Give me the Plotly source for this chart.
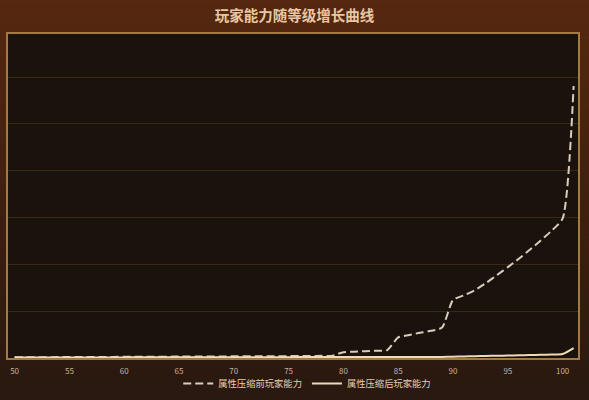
import plotly.graph_objects as go

# ---------------- data ----------------
levels = list(range(50, 102))

# ability before attribute compression (thousands)
before_compress = [15, 16, 17, 18, 19, 20, 21, 22, 23, 24,
                   25, 26, 27, 28, 29, 30, 31, 32, 33, 34,
                   35, 36, 37, 38, 39, 40, 42, 44, 46, 50,
                   125, 135, 145, 155, 170, 440, 490, 540, 580, 650,
                   1240, 1340, 1450, 1600, 1770, 1940, 2120, 2310, 2510, 2720,
                   2980, 5810]

# ability after attribute compression (thousands)
after_compress = [10, 10, 11, 11, 11, 12, 12, 12, 13, 13,
                  13, 14, 14, 14, 15, 15, 15, 16, 16, 16,
                  17, 17, 17, 18, 18, 18, 19, 19, 19, 20,
                  20, 20, 21, 21, 21, 21, 22, 22, 22, 22,
                  28, 33, 38, 43, 48, 53, 58, 63, 68, 75,
                  85, 210]

x_ticks = [50, 55, 60, 65, 70, 75, 80, 85, 90, 95, 100]

# ---------------- figure ----------------
fig = go.Figure()

fig.add_trace(go.Scatter(
    x=levels, y=before_compress,
    name="属性压缩前玩家能力",
    mode="lines",
    line=dict(color="#d9cdbd", width=2, dash="8px,4px", shape="spline", smoothing=0.6),
))
fig.add_trace(go.Scatter(
    x=levels, y=after_compress,
    name="属性压缩后玩家能力",
    mode="lines",
    line=dict(color="#f0dcb4", width=2, shape="spline", smoothing=0.6),
))

## background gradient (paper) made of thin strips
top_rgb = (0x56, 0x28, 0x10)
bot_rgb = (0x29, 0x19, 0x11)
n = 80
y_top, y_bot = 34 / 324 + 1.0, -42 / 324
shapes = []
for i in range(n):
    t = i / (n - 1)
    c = tuple(int(top_rgb[k] + (bot_rgb[k] - top_rgb[k]) * t) for k in range(3))
    y1 = y_top - (y_top - y_bot) * i / n
    y0 = y_top - (y_top - y_bot) * (i + 1) / n
    shapes.append(dict(type="rect", xref="paper", yref="paper",
                       x0=-0.1, x1=1.1, y0=y0 - 0.002, y1=y1 + 0.002,
                       fillcolor="rgb(%d,%d,%d)" % c, line_width=0, layer="below"))
# dark plot area
shapes.append(dict(type="rect", xref="paper", yref="paper", x0=0, x1=1, y0=0, y1=1,
                   fillcolor="#1a120d", line_width=0, layer="below"))

fig.update_layout(
    width=589, height=400,
    margin=dict(l=8, r=11, t=34, b=42, autoexpand=False),
    paper_bgcolor="#3d2010",
    plot_bgcolor="#1a120d",
    shapes=shapes,
    title=dict(text="<b>玩家能力随等级增长曲线</b>", x=0.5, xanchor="center",
               y=1 - 16 / 400, yanchor="middle",
               font=dict(family="Noto Sans CJK SC", size=14.5, color="#e8c6a2")),
    font=dict(family="Noto Sans CJK SC", color="#d8c2a6"),
    showlegend=True,
    legend=dict(orientation="h", x=0.525, xanchor="center", y=-0.034, yanchor="top",
                font=dict(size=9.3, color="#e2cfb2"), bgcolor="rgba(0,0,0,0)",
                itemwidth=30),
)

fig.update_xaxes(
    range=[49.4, 101.4],
    tickvals=x_ticks,
    tickfont=dict(size=8, color="#c4b29c"),
    ticklabelstandoff=4,
    showgrid=False, zeroline=False,
    showline=True, mirror=True, linecolor="#a47a40", linewidth=2,
    ticks="",
)
fig.update_yaxes(
    range=[0, 6920],
    dtick=1000,
    showticklabels=False,
    showgrid=True, gridcolor="#3c2714", gridwidth=1,
    zeroline=False,
    showline=True, mirror=True, linecolor="#a47a40", linewidth=2,
    ticks="",
)

# page has a default body margin, drop it so the chart fills the window
fig.write_html("out.html", config={"displayModeBar": False},
               post_script="document.body.style.margin='0';")
